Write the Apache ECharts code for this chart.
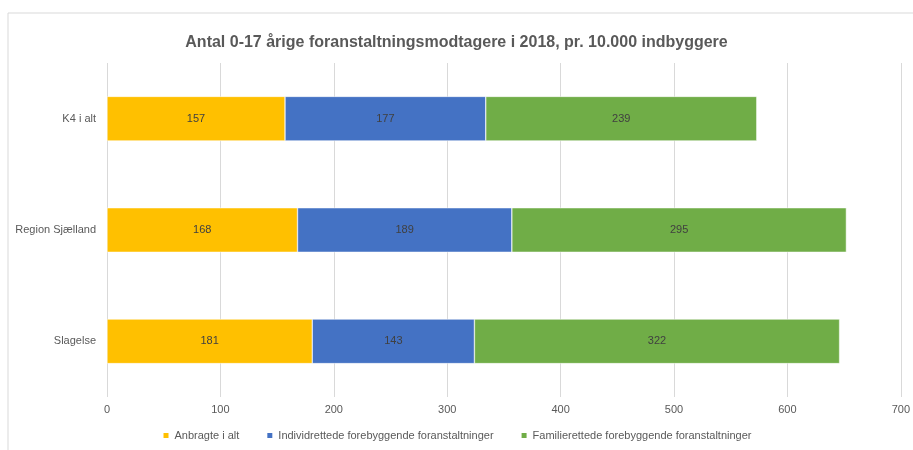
<!DOCTYPE html>
<html><head><meta charset="utf-8">
<script src="https://cdn.jsdelivr.net/npm/echarts@6/dist/echarts.min.js"></script>
<style>html,body{margin:0;padding:0;background:#fff}#c{width:913px;height:450px}</style>
</head><body><div id="c"></div>
<script>
const categories = ["K4 i alt", "Region Sjælland", "Slagelse"];
const seriesNames = ["Anbragte i alt", "Individrettede forebyggende foranstaltninger", "Familierettede forebyggende foranstaltninger"];
const anbragte = [157, 168, 181];
const individ = [177, 189, 143];
const familie = [239, 295, 322];
const colors = ["#FFC000", "#4472C4", "#70AD47"];
const font = "Liberation Sans, sans-serif";

const chart = echarts.init(document.getElementById('c'));
const mk = (name, data, color) => ({
  name, type: 'bar', stack: 'a', data, barWidth: '40%',
  itemStyle: { color, borderColor: '#ffffff', borderWidth: 0.5 },
  label: { show: true, position: 'inside', color: '#404040', fontSize: 11, fontFamily: font },
  emphasis: { disabled: true }
});
chart.setOption({
  animation: false,
  textStyle: { fontFamily: font },
  graphic: [{ type: 'rect', shape: { x: 8, y: 13, width: 920, height: 460 }, style: { fill: 'none', stroke: '#d9d9d9', lineWidth: 1 }, silent: true }],
  title: { text: 'Antal 0-17 årige foranstaltningsmodtagere i 2018, pr. 10.000 indbyggere', left: 'center', top: 30,
    textStyle: { color: '#595959', fontSize: 16, fontWeight: 'bold', fontFamily: font } },
  legend: { bottom: 4, left: 'center', itemWidth: 7, itemHeight: 7, itemGap: 26, icon: 'rect',
    textStyle: { color: '#595959', fontSize: 11, fontFamily: font }, data: seriesNames },
  grid: { left: 107, right: 10, top: 63, bottom: 53, containLabel: false },
  xAxis: { type: 'value', min: 0, max: 700, interval: 100,
    axisLine: { show: false }, axisTick: { show: false },
    axisLabel: { color: '#595959', fontSize: 11, margin: 7, fontFamily: font },
    splitLine: { lineStyle: { color: '#d9d9d9' } } },
  yAxis: { type: 'category', data: categories, inverse: true,
    axisLine: { show: false }, axisTick: { show: false },
    axisLabel: { color: '#595959', fontSize: 11, margin: 11, fontFamily: font } },
  series: [mk(seriesNames[0], anbragte, colors[0]), mk(seriesNames[1], individ, colors[1]), mk(seriesNames[2], familie, colors[2])]
});
</script></body></html>
